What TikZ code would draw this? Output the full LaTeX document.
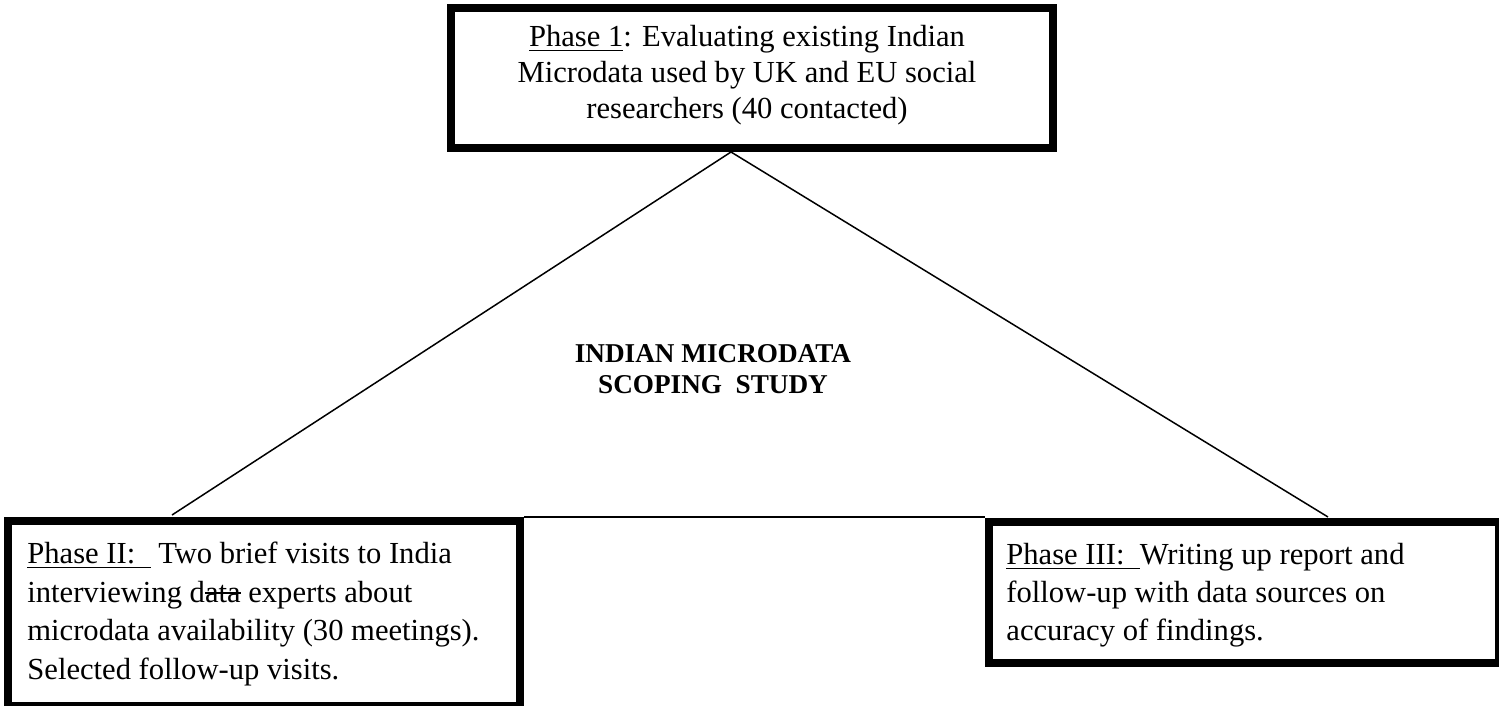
\documentclass[tikz,border=0pt]{standalone}
\usepackage{fontspec}
\setmainfont{Liberation Serif}
\usetikzlibrary{backgrounds}
\newcommand\strk[1]{\setbox0\hbox{#1}\rlap{\rule[0.27em]{\wd0}{0.06em}}\box0\relax}
\begin{document}
\begin{tikzpicture}[x=0.5pt,y=-0.5pt,
  phasebox/.style={draw=black,line width=4pt,fill=white,anchor=north west,inner sep=0pt},
  link/.style={draw=black,line width=0.75pt},
  boxtext/.style={font=\fontsize{15.3}{19.2}\selectfont,inner sep=0pt,align=left,anchor=base west},
  titletext/.style={font=\fontsize{13.6}{15.2}\selectfont\bfseries,inner sep=0pt,align=center,anchor=base}]
\useasboundingbox (0,0) rectangle (1499,706);
% outer edges: top 443-1053 x 0-148; left 0-520 x 513-706; right 981-1499 x 514-663
\node[phasebox,minimum width=610*0.5pt-4pt,minimum height=148*0.5pt-4pt] (p1box) at (447,4) {};
\node[phasebox,minimum width=520*0.5pt-4pt,minimum height=193*0.5pt-4pt] (p2box) at (4,517) {};
\node[phasebox,minimum width=518*0.5pt-4pt,minimum height=149*0.5pt-4pt] (p3box) at (985,518) {};
\coordinate (lend) at (172,515);
\coordinate (rend) at (1328,517);
\begin{scope}[on background layer]
\draw[link] (p1box.south) ++(-21,0) coordinate (apex) -- (lend);
\draw[link] (apex) -- (rend);
\draw[link] (p2box.east |- 0,517) -- (p3box.west |- 0,517);
\end{scope}
% texts (base anchor = baseline of last line)
\node[font=\fontsize{15.3}{18}\selectfont,inner sep=0pt,align=center,anchor=base] (p1) at (747,119)
  {\underline{Phase 1}: Evaluating existing Indian\\Microdata used by UK and EU social\\researchers (40 contacted)};
\node[boxtext] (p2) at (27,679)
  {\underline{Phase II:\ \ }\ Two brief visits to India\\interviewing d\strk{ata} experts about\\microdata availability (30 meetings).\\Selected follow-up visits.};
\node[boxtext,font=\fontsize{15.3}{18.8}\selectfont] (p3) at (1006,640)
  {\underline{Phase III:\ \ }Writing up report and\\follow-up with data sources on\\accuracy of findings.};
\node[titletext] (title) at (713,393) {INDIAN MICRODATA\\SCOPING\ \ STUDY};
\end{tikzpicture}
\end{document}
